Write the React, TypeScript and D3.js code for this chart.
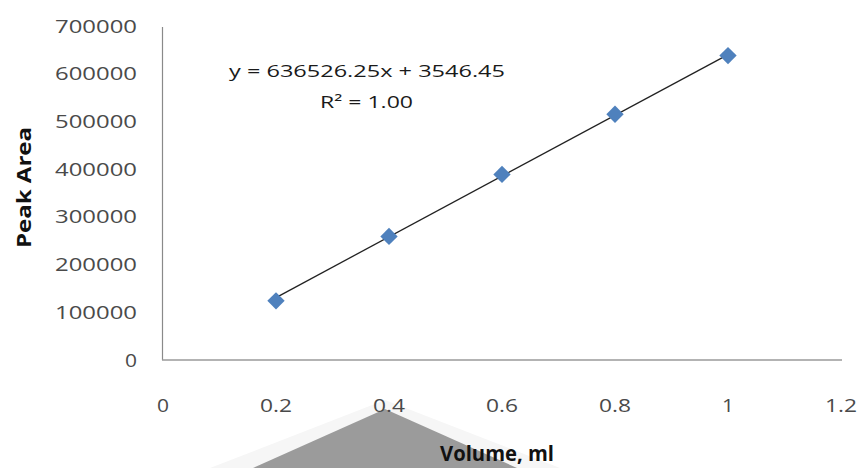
import React from "react";
import * as d3 from "d3";

const volumes = [0.2, 0.4, 0.6, 0.8, 1.0];
const peakAreas = [124000, 259000, 389000, 515000, 638000];
const xTicks = [0, 0.2, 0.4, 0.6, 0.8, 1, 1.2];
const yTicks = [0, 100000, 200000, 300000, 400000, 500000, 600000, 700000];
const slope = 636526.25;
const intercept = 3546.45;
const equationLabel = "y = 636526.25x + 3546.45";
const r2Label = "R² = 1.00";
const xTitle = "Volume, ml";
const yTitle = "Peak Area";

const W = 859;
const H = 468;
const font = "'Open Sans', 'Noto Sans', sans-serif";

export default function App() {
  const x = d3.scaleLinear().domain([0, 1.2]).range([163, 841]);
  const y = d3.scaleLinear().domain([0, 700000]).range([360, 26]);

  const lineGen = d3
    .line<number>()
    .x((v) => x(v))
    .y((v) => y(slope * v + intercept));
  const trend = lineGen([d3.min(volumes)!, d3.max(volumes)!]);

  const marker = d3.symbol(d3.symbolSquare, 150)()!;

  // grey wedge sitting below the axis, with a faint halo
  const wedge = [
    [253, 468],
    [385, 409],
    [517, 468],
  ];
  const halo = [
    [210, 468],
    [385, 400],
    [560, 468],
  ];
  const pts = (p: number[][]) => p.map((q) => q.join(",")).join(" ");

  return (
    <svg
      width={W}
      height={H}
      style={{ position: "absolute", left: 0, top: 0, background: "#fff" }}
    >
      <rect width={W} height={H} fill="#fff" />

      <polygon points={pts(halo)} fill="#f6f6f6" />
      <polygon points={pts(wedge)} fill="#9b9b9b" />

      {/* axes */}
      <line x1={162.5} x2={162.5} y1={27} y2={360} stroke="#8a8a8a" strokeWidth={1.2} />
      <line x1={162} x2={842} y1={360} y2={360} stroke="#9a9a9a" strokeWidth={1.6} />

      {/* y tick labels */}
      {yTicks.map((t) => (
        <text
          key={t}
          x={137}
          y={y(t) + 6.5}
          textAnchor="end"
          fontFamily={font}
          fontSize={18}
          fill="#4a4a4a"
          textLength={t === 0 ? 12 : 82}
          lengthAdjust="spacingAndGlyphs"
        >
          {t}
        </text>
      ))}

      {/* x tick labels */}
      {xTicks.map((t) => {
        const s = String(t);
        const len = s.length === 1 ? 12 : 32;
        return (
          <text
            key={t}
            x={x(t)}
            y={411.5}
            textAnchor="middle"
            fontFamily={font}
            fontSize={18}
            fill="#4a4a4a"
            textLength={len}
            lengthAdjust="spacingAndGlyphs"
          >
            {s}
          </text>
        );
      })}

      {/* trendline */}
      <path d={trend!} fill="none" stroke="#222" strokeWidth={1.3} />

      {/* data markers */}
      {volumes.map((v, i) => (
        <path
          key={v}
          d={marker}
          transform={`translate(${x(v)},${y(peakAreas[i])}) rotate(45)`}
          fill="#4f81bd"
        />
      ))}

      {/* regression label */}
      <text
        x={229}
        y={77}
        fontFamily={font}
        fontSize={17}
        fill="#1a1a1a"
        textLength={276}
        lengthAdjust="spacingAndGlyphs"
      >
        {equationLabel}
      </text>
      <text
        x={320}
        y={108}
        fontFamily={font}
        fontSize={17}
        fill="#1a1a1a"
        textLength={93}
        lengthAdjust="spacingAndGlyphs"
      >
        {r2Label}
      </text>

      {/* axis titles */}
      <text
        transform="translate(31,248) rotate(-90)"
        fontFamily={font}
        fontSize={20}
        fontWeight="bold"
        fill="#111"
        textLength={121}
        lengthAdjust="spacingAndGlyphs"
      >
        {yTitle}
      </text>

      <text
        x={440}
        y={461}
        fontFamily={font}
        fontSize={21}
        fontWeight="bold"
        fill="#111"
        textLength={114}
        lengthAdjust="spacingAndGlyphs"
      >
        {xTitle}
      </text>
    </svg>
  );
}
